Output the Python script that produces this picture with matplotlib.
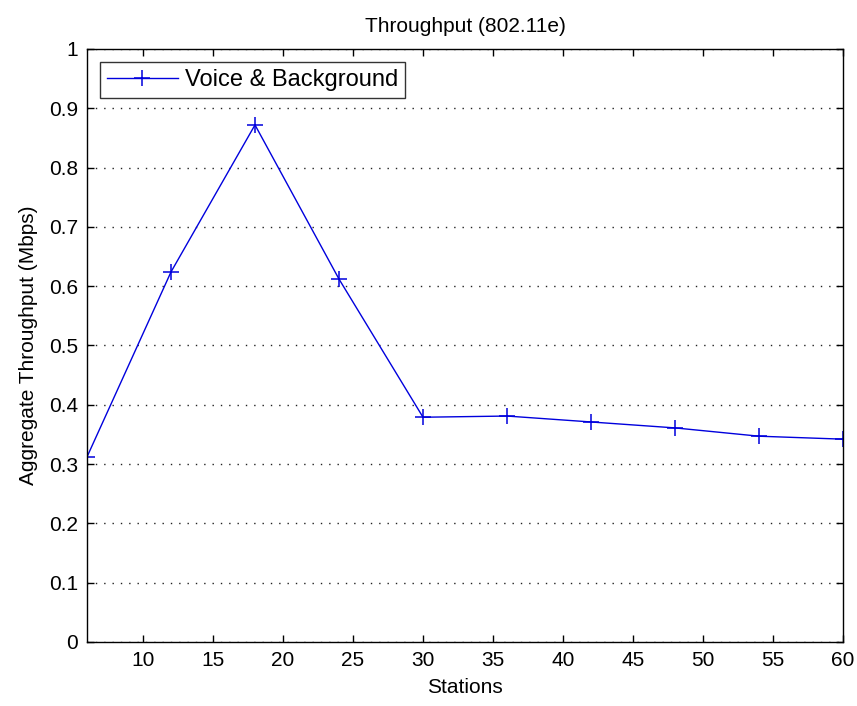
import numpy as np
import matplotlib.pyplot as plt

# Aggregate throughput vs number of stations (802.11e, voice + background)
stations = [6, 12, 18, 24, 30, 36, 42, 48, 54, 60]
throughput = [0.312, 0.624, 0.872, 0.612, 0.379, 0.381, 0.371, 0.361, 0.347, 0.342]

x_ticks = [10, 15, 20, 25, 30, 35, 40, 45, 50, 55, 60]
y_ticks = [0, 0.1, 0.2, 0.3, 0.4, 0.5, 0.6, 0.7, 0.8, 0.9, 1]
y_labels = ['0', '0.1', '0.2', '0.3', '0.4', '0.5', '0.6', '0.7', '0.8', '0.9', '1']

plt.rcParams['font.family'] = ['Liberation Sans', 'DejaVu Sans']

fig = plt.figure(figsize=(8.57, 7.06), dpi=100)
ax = fig.add_axes([0.1015, 0.0907, 0.8822, 0.8399])

ax.plot(stations, throughput, color='#0000dd', lw=1.0, marker='+',
        markersize=11, markeredgewidth=1.1, label='Voice & Background')

ax.set_xlim(6, 60)
ax.set_ylim(0, 1)
ax.set_xticks(x_ticks)
ax.set_yticks(y_ticks)
ax.set_yticklabels(y_labels)
ax.tick_params(direction='in', top=True, right=True, length=5, width=1,
               labelsize=15, pad=6.5)
ax.yaxis.grid(True, linestyle=(0, (1, 5)), color='#222222', lw=1)
for s in ax.spines.values():
    s.set_linewidth(1)

ax.set_xlabel('Stations', fontsize=15, labelpad=6)
ax.set_ylabel('Aggregate Throughput (Mbps)', fontsize=15, labelpad=8)
ax.set_title('Throughput (802.11e)', fontsize=15, pad=12)

leg = ax.legend(loc='upper left', fontsize=17, fancybox=False, edgecolor='black',
                borderaxespad=0.55, handlelength=3.0, handletextpad=0.3,
                borderpad=0.3)
leg.get_frame().set_linewidth(1)

fig.savefig('out.png', dpi=100)
